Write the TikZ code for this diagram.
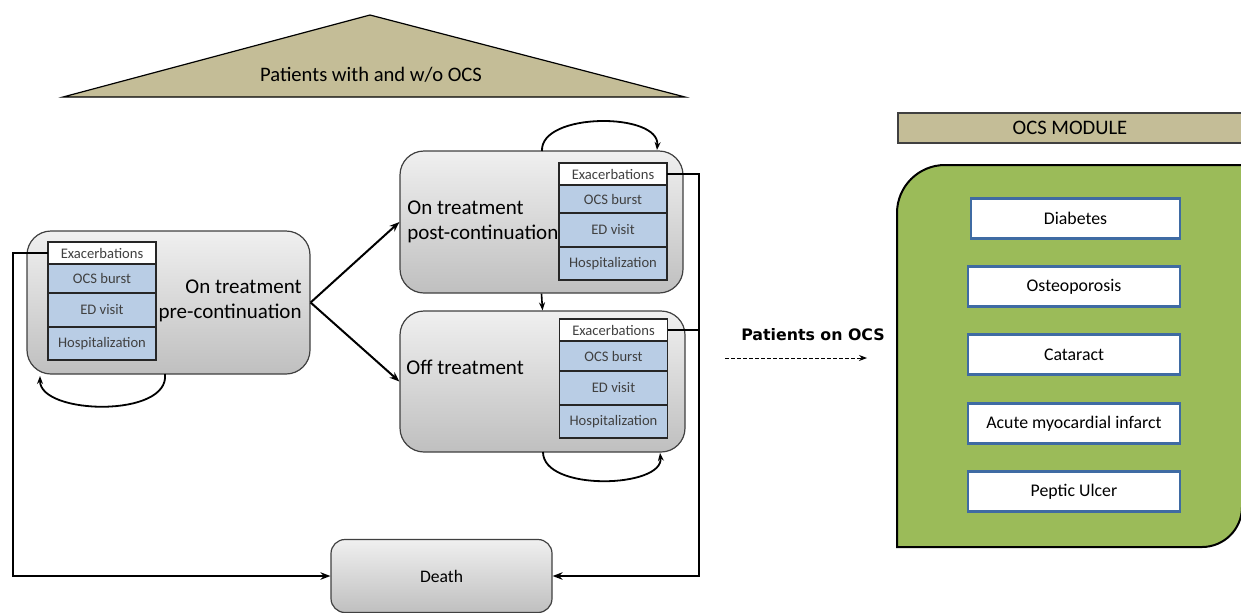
\documentclass[tikz,border=0pt]{standalone}
\usepackage{fontspec}
\setmainfont{Carlito}
\newfontfamily\boldlabel{DejaVu Sans}
\usepackage{xcolor}
\usepackage{tikz}
\usetikzlibrary{positioning,arrows.meta}

\definecolor{khaki}{HTML}{C4BD97}
\definecolor{cellblue}{HTML}{B9CDE5}
\definecolor{modgreen}{HTML}{9BBB59}
\definecolor{itemblue}{HTML}{3F6BA3}
\definecolor{edgegray}{HTML}{404040}

\begin{document}
\begin{tikzpicture}[x=0.5pt, y=-0.5pt,
  state/.style={draw=edgegray, line width=0.6pt, rounded corners=12pt, top color=gray!12, bottom color=gray!50, inner sep=0pt},
  cell/.style={draw=black!85, line width=0.7pt, fill=cellblue, minimum width=54pt, inner sep=0pt, outer sep=0pt, font=\fontsize{7.3}{8}\selectfont, text=black!75},
  head/.style={cell, fill=white, minimum height=11pt},
  item/.style={draw=itemblue, line width=1.1pt, fill=white, minimum width=106pt, minimum height=20pt, inner sep=0pt, font=\fontsize{8.9}{10}\selectfont},
  arr/.style={-{Stealth[length=5pt]}, line width=1pt}]

\useasboundingbox (0,0) rectangle (1241,612);

% population triangle
\draw[fill=khaki, line width=0.6pt] (63,97) -- (370,15) -- (685,97) -- cycle;
\node[font=\fontsize{10.3}{11}\selectfont] (popLbl) at (371,75) {Patients with and w/o OCS};

% health states
\node[state, minimum width=141.5pt, minimum height=71.5pt] (pre) at (168.5,302.5) {};
\node[state, minimum width=141.5pt, minimum height=71pt] (post) at (541.5,222) {};
\node[state, minimum width=142.5pt, minimum height=70.5pt] (off) at (542.5,381.5) {};
\node[state, rounded corners=7pt, minimum width=110.5pt, minimum height=36.5pt, font=\fontsize{8.8}{10}\selectfont] (death) at (441.5,576) {Death};

\node[anchor=east, align=right, inner sep=0pt, font=\fontsize{10.5}{12.8}\selectfont] (preLbl) at (302,301) {On treatment\\pre-continuation};
\node[anchor=west, align=left, inner sep=0pt, font=\fontsize{10.5}{12.8}\selectfont] (postLbl) at (407,222) {On treatment\\post-continuation};
\node[anchor=west, inner sep=0pt, font=\fontsize{10.5}{11}\selectfont] (offLbl) at (406,367) {Off treatment};

% exacerbation tables
\node[head] (exL) at (102,253) {Exacerbations};
\node[cell, minimum height=14.5pt, below=0pt of exL] (ocsL) {OCS burst};
\node[cell, minimum height=17pt, below=0pt of ocsL] (edL) {ED visit};
\node[cell, minimum height=16.5pt, below=0pt of edL] (hospL) {Hospitalization};

\node[head] (exP) at (613,174) {Exacerbations};
\node[cell, minimum height=14pt, below=0pt of exP] (ocsP) {OCS burst};
\node[cell, minimum height=17pt, below=0pt of ocsP] (edP) {ED visit};
\node[cell, minimum height=16.5pt, below=0pt of edP] (hospP) {Hospitalization};

\node[head] (exO) at (613.5,330) {Exacerbations};
\node[cell, minimum height=15pt, below=0pt of exO] (ocsO) {OCS burst};
\node[cell, minimum height=17pt, below=0pt of ocsO] (edO) {ED visit};
\node[cell, minimum height=16.5pt, below=0pt of edO] (hospO) {Hospitalization};

% transitions
\draw[arr] (pre.east) -- (post.west);
\draw[arr] (pre.east) -- (off.west);
\draw[-{Stealth[length=4pt]}, line width=0.8pt] (post.south) -- (off.north);

\coordinate (preLoopA) at (165,374);
\coordinate (preLoopB) at (40,376);
\draw[-{Stealth[length=4pt]}, line width=0.9pt] (preLoopA) .. controls (170,418) and (40,415) .. (preLoopB);
\coordinate (postLoopA) at (542,151);
\coordinate (postLoopB) at (657,150);
\draw[-{Stealth[length=4pt]}, line width=0.9pt] (postLoopA) .. controls (540,112) and (660,112) .. (postLoopB);
\coordinate (offLoopA) at (543,452);
\coordinate (offLoopB) at (660,453);
\draw[-{Stealth[length=4pt]}, line width=0.9pt] (offLoopA) .. controls (543,492) and (664,488) .. (offLoopB);

% to death
\draw[arr] (exL.west) -- ++(-35,0) |- (death.west);
\draw[arr] (exP.east) -- ++(32,0) |- (death.east);
\draw[line width=1pt] (exO.east) -- ++(31,0);

% OCS module
\node[draw=edgegray, fill=khaki, line width=0.7pt, minimum width=172pt, minimum height=15pt, inner sep=0pt, font=\fontsize{10.3}{11}\selectfont] (modHead) at (1070,128) {OCS MODULE};
\draw[fill=modgreen, line width=1pt] (897,547) -- (897,213) arc[start angle=180, end angle=90, radius=24pt] -- (1242,165) -- (1242,507) arc[start angle=0, end angle=-90, radius=20pt] -- cycle;

\node[item, minimum width=104.5pt] (diab) at (1075.5,218.5) {Diabetes};
\node[item] (osteo) at (1074,286.5) {Osteoporosis};
\node[item] (catar) at (1074,354.5) {Cataract};
\node[item] (ami) at (1074,423.5) {Acute myocardial infarct};
\node[item] (ulcer) at (1074,491.5) {Peptic Ulcer};

\node[font=\boldlabel\bfseries\fontsize{7.9}{9}\selectfont] (ocsLbl) at (813,335) {Patients on OCS};
\coordinate (ocsFrom) at (725,358);
\coordinate (ocsTo) at (867,358);
\draw[-{Stealth[length=4pt]}, line width=0.5pt, dash pattern=on 2pt off 1pt] (ocsFrom) -- (ocsTo);

\end{tikzpicture}
\end{document}
